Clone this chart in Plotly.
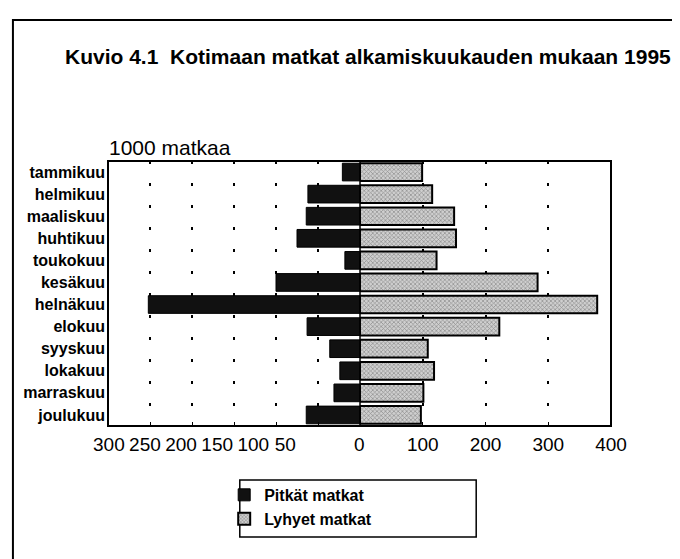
import plotly.graph_objects as go

# Kuvio 4.1 - domestic trips by starting month, 1995 (1000 trips)
kuukaudet = ['tammikuu', 'helmikuu', 'maaliskuu', 'huhtikuu', 'toukokuu', 'kesäkuu',
             'helnäkuu', 'elokuu', 'syyskuu', 'lokakuu', 'marraskuu', 'joulukuu']
pitkat = [21, 62, 64, 75, 18, 100, 252, 63, 36, 24, 31, 64]
lyhyet = [99, 115, 150, 153, 122, 283, 378, 222, 108, 118, 101, 97]

vasen_tikit = ['300', '250', '200', '150', '100', '50', '0']
oikea_tikit = [100, 200, 300, 400]

FONT = 'Liberation Sans, Arial, sans-serif'
SPLIT = 0.501  # zero line; the left scale is wider than the right one
# the printed left-hand labels sit closer together than the gridlines
vasen_tikkipaikat = [299, 256, 213, 170, 127, 89, 1]
vasen_ruudukko = [250, 200, 150, 100, 50]

fig = go.Figure()
fig.add_trace(go.Bar(
    y=kuukaudet, x=pitkat, orientation='h', name='Pitkät matkat',
    xaxis='x', yaxis='y',
    marker=dict(color='#111111', line=dict(color='black', width=1)),
))
fig.add_trace(go.Bar(
    y=kuukaudet, x=lyhyet, orientation='h', name='Lyhyet matkat',
    xaxis='x2', yaxis='y',
    marker=dict(color='#cfcfcf', line=dict(color='black', width=2),
                pattern=dict(shape='x', fgcolor='#4a4a4a', size=3, solidity=0.4)),
))

dots = dict(gridcolor='black', gridwidth=1.5, griddash='3px,19px')
tickfont = dict(family=FONT, size=19, color='black')

fig.update_layout(
    width=680, height=559,
    margin=dict(l=100, r=77, t=153, b=141),
    paper_bgcolor='white', plot_bgcolor='white',
    barmode='overlay', bargap=0.2,
    xaxis=dict(domain=[0, SPLIT], range=[300, 0],
               tickmode='array', tickvals=vasen_tikkipaikat, ticktext=vasen_tikit,
               tickangle=0, showgrid=False, zeroline=False, showline=False, ticks='',
               ticklabelstandoff=5, tickfont=tickfont,
               minor=dict(tickvals=vasen_ruudukko, showgrid=True, ticks='inside',
                          ticklen=4, tickcolor='black', **dots)),
    xaxis2=dict(domain=[SPLIT, 1], range=[0, 400], tickvals=oikea_tikit, anchor='y',
                tickangle=0, showgrid=True, zeroline=False, showline=False,
                ticks='inside', ticklen=4, tickcolor='black',
                ticklabelstandoff=5, tickfont=tickfont, **dots),
    yaxis=dict(autorange='reversed', showgrid=False, zeroline=False, showline=False,
               ticks='', ticklabelstandoff=2,
               tickfont=dict(family=FONT, size=16, color='black', weight='bold')),
    showlegend=True,
    legend=dict(x=0.231, y=-0.196, xanchor='left', yanchor='top',
                bgcolor='rgba(0,0,0,0)', borderwidth=0,
                font=dict(family=FONT, size=16, color='black', weight='bold'),
                itemwidth=30, tracegroupgap=0),
    font=dict(family=FONT, color='black'),
)

# title texts
fig.add_annotation(text='<b>Kuvio 4.1  Kotimaan matkat alkamiskuukauden mukaan 1995</b>',
                   xref='paper', yref='paper', x=-0.089, y=1.396,
                   xanchor='left', yanchor='middle', showarrow=False,
                   font=dict(family=FONT, size=21, color='black'))
fig.add_annotation(text='1000 matkaa', xref='paper', yref='paper', x=-0.002, y=1.052,
                   xanchor='left', yanchor='middle', showarrow=False,
                   font=dict(family=FONT, size=21, color='black'))

# plot frame, zero line, legend box, outer frame
fig.add_shape(type='rect', xref='paper', yref='paper', x0=0, x1=1, y0=0, y1=1,
              line=dict(color='black', width=2))
fig.add_shape(type='line', xref='paper', yref='paper', x0=SPLIT, x1=SPLIT, y0=0, y1=1,
              line=dict(color='black', width=1.5))
fig.add_shape(type='rect', xref='paper', yref='paper', x0=0.262, x1=0.732, y0=-0.204, y1=-0.419,
              line=dict(color='black', width=1.5))
fig.add_shape(type='rect', xref='paper', yref='paper', x0=-0.189, x1=1.3, y0=-1.0, y1=1.532,
              line=dict(color='black', width=2))

fig.write_html('out.html')
